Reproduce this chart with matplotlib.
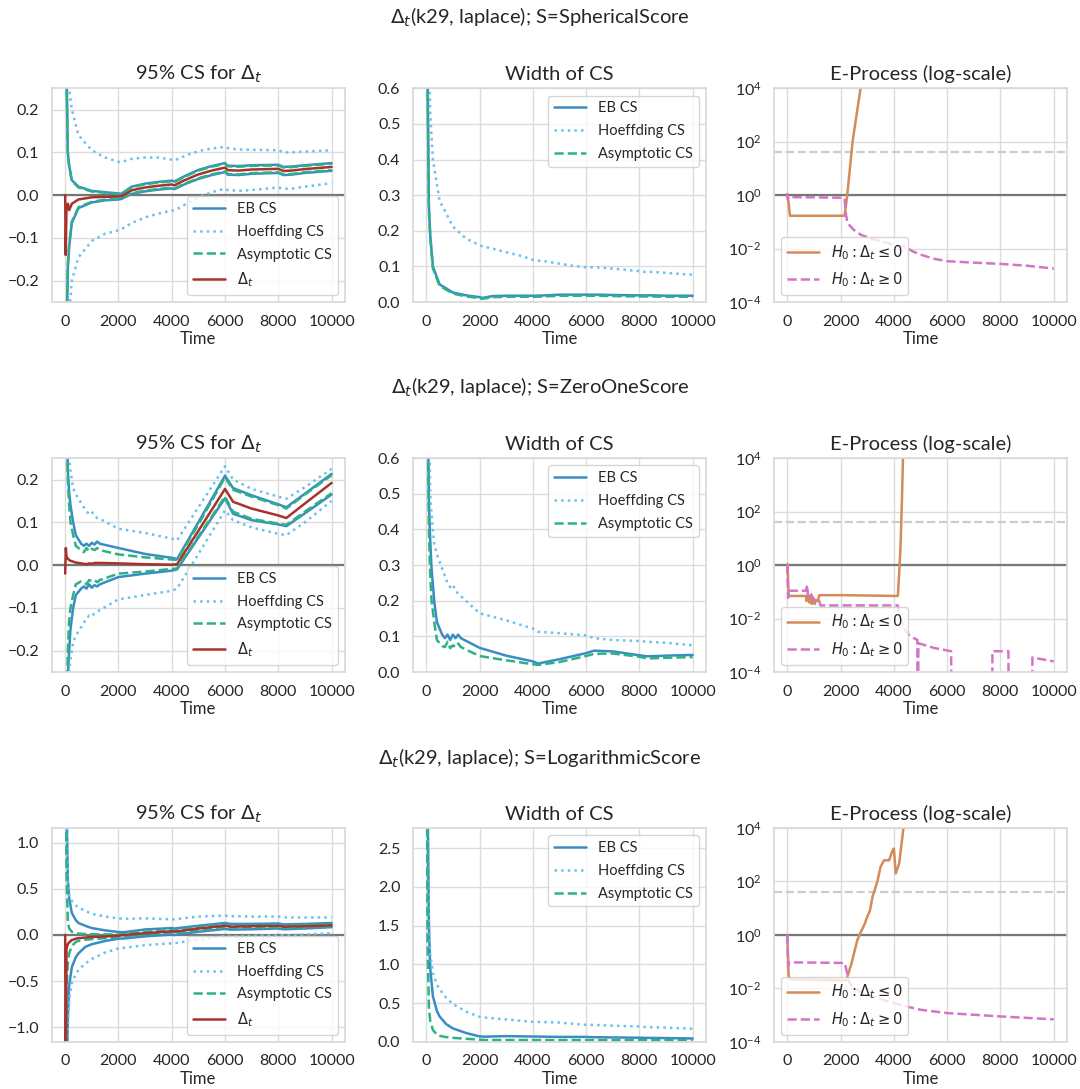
import numpy as np
import matplotlib
matplotlib.use("Agg")
import matplotlib.pyplot as plt
import seaborn as sns

#------------------------------
# Datos
#------------------------------
ROW_TITLES = [
    r"$\Delta_t$(k29, laplace); S=SphericalScore",
    r"$\Delta_t$(k29, laplace); S=ZeroOneScore",
    r"$\Delta_t$(k29, laplace); S=LogarithmicScore",
]

# --- SphericalScore ---
t_sph = [1, 20, 50, 100, 150, 250, 500, 1000, 1500, 2000, 2100, 2500, 3000, 3500,
         4000, 4100, 4500, 5000, 5500, 6000, 6100, 6500, 7000, 8000, 8200, 8500, 9000, 10000]
eb_up_sph = [2.0, 0.6, 0.3, 0.1, 0.07, 0.035, 0.02, 0.01, 0.007, 0.004, 0.003, 0.02, 0.027, 0.031,
             0.034, 0.032, 0.045, 0.059, 0.068, 0.075, 0.069, 0.068, 0.070, 0.071, 0.066, 0.067, 0.070, 0.075]
eb_lo_sph = [-2.0, -0.7, -0.35, -0.17, -0.12, -0.065, -0.03, -0.017, -0.012, -0.010, -0.009, 0.003, 0.009, 0.013,
             0.016, 0.014, 0.026, 0.038, 0.047, 0.054, 0.048, 0.047, 0.050, 0.052, 0.047, 0.048, 0.052, 0.057]
as_up_sph = [1.9, 0.55, 0.28, 0.095, 0.066, 0.033, 0.018, 0.0085, 0.0055, 0.0027, 0.0018, 0.0185, 0.0255, 0.0295,
             0.0325, 0.0305, 0.0435, 0.0575, 0.0665, 0.0735, 0.0675, 0.0665, 0.0685, 0.0695, 0.0645, 0.0655, 0.0685, 0.0735]
as_lo_sph = [-1.9, -0.65, -0.33, -0.16, -0.115, -0.062, -0.028, -0.0155, -0.0105, -0.0085, -0.0075, 0.0045, 0.0105, 0.0145,
             0.0175, 0.0155, 0.0275, 0.0395, 0.0485, 0.0555, 0.0495, 0.0485, 0.0515, 0.0535, 0.0485, 0.0495, 0.0535, 0.0585]
hf_up_sph = [3.0, 1.5, 0.6, 0.35, 0.25, 0.2, 0.14, 0.105, 0.088, 0.078, 0.077, 0.085, 0.088, 0.088,
             0.083, 0.081, 0.092, 0.103, 0.109, 0.113, 0.110, 0.107, 0.106, 0.105, 0.100, 0.100, 0.102, 0.105]
hf_lo_sph = [-3.0, -1.5, -0.6, -0.38, -0.28, -0.2, -0.145, -0.107, -0.09, -0.082, -0.08, -0.065, -0.052, -0.043,
             -0.036, -0.036, -0.022, -0.005, 0.007, 0.015, 0.012, 0.010, 0.012, 0.018, 0.015, 0.015, 0.020, 0.028]
delta_sph = [0.0, -0.14, -0.03, -0.02, -0.035, -0.02, -0.01, -0.005, -0.004, -0.003, -0.003, 0.0115, 0.018, 0.022,
             0.025, 0.023, 0.0355, 0.0485, 0.0575, 0.0645, 0.0585, 0.0575, 0.060, 0.0615, 0.0565, 0.0575, 0.061, 0.066]

te_le_sph = [1, 50, 100, 2150, 2200, 2250, 2350, 2450, 2600, 2750, 2800]
e_le_sph = [1.0, 0.5, 0.17, 0.17, 0.4, 1.0, 10, 100, 1000, 1e4, 2e4]
te_ge_sph = [1, 20, 50, 100, 2150, 2200, 2260, 2500, 2760, 3000, 3500, 4000, 4400, 4700, 5000,
             5500, 6000, 7000, 8000, 9000, 10000]
e_ge_sph = [1.2, 0.7, 0.9, 0.85, 0.8, 0.2, 0.09, 0.05, 0.033, 0.027, 0.019, 0.014, 0.012, 0.008, 0.006,
            0.0042, 0.0034, 0.003, 0.0027, 0.0023, 0.0018]

# --- ZeroOneScore ---
t_zo = [1, 25, 50, 100, 150, 200, 300, 400, 600, 700, 800, 900, 1000, 1100, 1200, 1300,
        2000, 3000, 4000, 4200, 5000, 6000, 6300, 7000, 8000, 8300, 9000, 10000]
eb_up_zo = [2.0, 0.8, 0.4, 0.22, 0.17, 0.14, 0.1, 0.07, 0.05, 0.045, 0.05, 0.045, 0.052, 0.048, 0.055, 0.05,
            0.04, 0.026, 0.017, 0.014, 0.1, 0.209, 0.18, 0.163, 0.142, 0.135, 0.167, 0.213]
eb_lo_zo = [-2.0, -0.9, -0.45, -0.26, -0.2, -0.15, -0.1, -0.07, -0.055, -0.05, -0.055, -0.045, -0.053, -0.047, -0.05, -0.045,
            -0.028, -0.02, -0.013, -0.01, 0.064, 0.156, 0.12, 0.105, 0.095, 0.091, 0.121, 0.165]
as_up_zo = [1.8, 0.7, 0.35, 0.2, 0.14, 0.1, 0.07, 0.045, 0.035, 0.03, 0.04, 0.032, 0.038, 0.035, 0.04, 0.035,
            0.025, 0.018, 0.013, 0.012, 0.095, 0.205, 0.176, 0.16, 0.14, 0.132, 0.165, 0.21]
as_lo_zo = [-1.8, -0.8, -0.4, -0.2, -0.13, -0.1, -0.07, -0.045, -0.038, -0.04, -0.045, -0.035, -0.037, -0.035, -0.04, -0.035,
            -0.02, -0.015, -0.009, -0.008, 0.067, 0.16, 0.125, 0.108, 0.097, 0.094, 0.125, 0.168]
hf_up_zo = [3.0, 1.5, 0.7, 0.4, 0.25, 0.22, 0.18, 0.165, 0.145, 0.135, 0.125, 0.12, 0.125, 0.115, 0.11, 0.108,
            0.085, 0.075, 0.062, 0.058, 0.135, 0.231, 0.2, 0.178, 0.16, 0.155, 0.182, 0.225]
hf_lo_zo = [-3.0, -1.5, -0.7, -0.4, -0.25, -0.22, -0.18, -0.165, -0.145, -0.135, -0.125, -0.118, -0.12, -0.113, -0.11, -0.105,
            -0.08, -0.07, -0.06, -0.055, 0.026, 0.128, 0.105, 0.088, 0.073, 0.07, 0.1, 0.15]
delta_zo = [-0.02, 0.04, 0.02, 0.015, 0.012, 0.01, 0.008, 0.006, 0.004, 0.003, 0.002, 0.004, 0.003, 0.005, 0.005, 0.005,
            0.004, 0.002, 0.001, 0.002, 0.08, 0.178, 0.148, 0.132, 0.116, 0.11, 0.144, 0.192]

te_le_zo = [1, 10, 50, 700, 720, 780, 820, 880, 920, 980, 1030, 1080, 1150, 1200, 2100,
            4150, 4200, 4250, 4300, 4350]
e_le_zo = [1.0, 1.1, 0.07, 0.07, 0.045, 0.08, 0.04, 0.07, 0.035, 0.06, 0.035, 0.05, 0.045, 0.075, 0.075,
           0.07, 0.5, 5.0, 200, 2e4]
te_ge_zo = [1, 30, 50, 700, 750, 780, 900, 1000, 1200, 1250, 4150, 4200, 4400, 4600, 4880, 4890, 4910,
            4920, 5500, 6150, 6160, 7690, 7700, 8300, 8310, 9190, 9200, 10000]
e_ge_zo = [1.0, 0.06, 0.11, 0.11, 0.18, 0.06, 0.08, 0.045, 0.045, 0.031, 0.031, 0.012, 0.004, 0.0022, 0.0016, 1e-6, 1e-6,
           0.0012, 0.0008, 0.0006, 1e-6, 1e-6, 0.0006, 0.0006, 1e-6, 1e-6, 0.00035, 0.00025]

# --- LogarithmicScore ---
t_log = [1, 20, 50, 100, 150, 250, 400, 500, 750, 1000, 1500, 2000, 2200, 3000, 4000, 4100,
         5000, 6000, 6200, 7000, 8000, 8200, 9000, 10000]
eb_up_log = [8.0, 3.0, 1.5, 0.6, 0.4, 0.24, 0.16, 0.13, 0.1, 0.075, 0.05, 0.032, 0.03, 0.06, 0.075, 0.07,
             0.1, 0.13, 0.12, 0.12, 0.125, 0.115, 0.12, 0.13]
eb_lo_log = [-8.0, -3.5, -1.8, -0.9, -0.55, -0.35, -0.24, -0.2, -0.13, -0.1, -0.065, -0.04, -0.038, -0.015, 0.005, 0.0,
             0.035, 0.065, 0.058, 0.062, 0.07, 0.062, 0.07, 0.085]
as_up_log = [6.0, 2.0, 0.7, 0.15, 0.07, 0.035, 0.02, 0.015, 0.01, 0.008, 0.006, 0.005, 0.012, 0.033, 0.052, 0.047,
             0.082, 0.112, 0.102, 0.107, 0.112, 0.102, 0.107, 0.117]
as_lo_log = [-6.0, -2.5, -0.6, -0.3, -0.2, -0.12, -0.075, -0.065, -0.052, -0.045, -0.035, -0.025, -0.013, 0.008, 0.027, 0.022,
             0.058, 0.088, 0.078, 0.083, 0.088, 0.078, 0.083, 0.093]
hf_up_log = [10.0, 4.0, 1.2, 0.55, 0.43, 0.37, 0.32, 0.3, 0.26, 0.23, 0.2, 0.18, 0.175, 0.18, 0.17, 0.17,
             0.2, 0.21, 0.205, 0.2, 0.2, 0.19, 0.19, 0.19]
hf_lo_log = [-10.0, -4.0, -1.5, -1.0, -0.7, -0.52, -0.42, -0.38, -0.31, -0.26, -0.19, -0.145, -0.14, -0.11, -0.09, -0.09,
             -0.05, -0.01, -0.015, -0.01, 0.0, -0.003, 0.005, 0.02]
delta_log = [0.0, -1.6, -0.15, -0.1, -0.08, -0.055, -0.04, -0.035, -0.028, -0.022, -0.016, -0.008, 0.0, 0.02, 0.04, 0.035,
             0.07, 0.1, 0.09, 0.095, 0.1, 0.09, 0.095, 0.105]

te_le_log = [1, 50, 100, 2200, 2255, 2400, 2500, 2630, 2760, 2900, 3000, 3100, 3200, 3380, 3500,
             3630, 3820, 3950, 4000, 4070, 4200, 4360, 4400]
e_le_log = [1.0, 0.03, 0.022, 0.02, 0.028, 0.08, 0.2, 0.65, 1.3, 2.5, 4.8, 8, 27, 100, 350,
            620, 620, 1450, 1700, 200, 470, 1e4, 1.5e4]
te_ge_log = [1, 30, 50, 2150, 2190, 2320, 2500, 3000, 3760, 4500, 5000, 6000, 8000, 10000]
e_ge_log = [1.0, 0.07, 0.095, 0.09, 0.066, 0.018, 0.01, 0.0058, 0.0033, 0.0021, 0.0016, 0.0012, 0.0009, 0.0007]

ROWS = [
    dict(t=t_sph, eb=(eb_lo_sph, eb_up_sph), hf=(hf_lo_sph, hf_up_sph), asym=(as_lo_sph, as_up_sph),
         delta=delta_sph, le=(te_le_sph, e_le_sph), ge=(te_ge_sph, e_ge_sph), cs_lim=0.25, w_lim=0.6),
    dict(t=t_zo, eb=(eb_lo_zo, eb_up_zo), hf=(hf_lo_zo, hf_up_zo), asym=(as_lo_zo, as_up_zo),
         delta=delta_zo, le=(te_le_zo, e_le_zo), ge=(te_ge_zo, e_ge_zo), cs_lim=0.25, w_lim=0.6),
    dict(t=t_log, eb=(eb_lo_log, eb_up_log), hf=(hf_lo_log, hf_up_log), asym=(as_lo_log, as_up_log),
         delta=delta_log, le=(te_le_log, e_le_log), ge=(te_ge_log, e_ge_log), cs_lim=1.16, w_lim=2.76),
]

ALPHA = 0.025

#-----------
# Estilos
#-----------
C_EB = "#3a8cc4"
C_HF = "#6cc0ee"
C_AS = "#2bb285"
C_DELTA = "#a8322d"
C_LE = "#d28c5a"
C_GE = "#d474c6"

sns.set_theme(style="whitegrid")
plt.rcParams["font.family"] = ["Lato", "DejaVu Sans"]
plt.rcParams["axes.edgecolor"] = "#d9d9d9"
plt.rcParams["grid.color"] = "#dcdcdc"

fig, axes = plt.subplots(
    3, 3, figsize=(10.8, 10.89), dpi=100,
    gridspec_kw=dict(left=0.048, right=0.988, top=0.919, bottom=0.0432,
                     wspace=0.232, hspace=0.729),
)

LW = 1.8
TICK_FS = 11.5
TITLE_FS = 14.5
LABEL_FS = 12
LEG_FS = 10.5
LEG_KW = dict(handlelength=2.2, labelspacing=0.6)

for i, row in enumerate(ROWS):
    t = np.array(row["t"])
    eb_lo, eb_up = np.array(row["eb"][0]), np.array(row["eb"][1])
    hf_lo, hf_up = np.array(row["hf"][0]), np.array(row["hf"][1])
    as_lo, as_up = np.array(row["asym"][0]), np.array(row["asym"][1])

    # 1) CS
    ax = axes[i, 0]
    ax.axhline(0, color="#777777", lw=1.6, zorder=1)
    ax.plot(t, eb_up, color=C_EB, lw=LW, label="EB CS")
    ax.plot(t, eb_lo, color=C_EB, lw=LW)
    ax.plot(t, hf_up, color=C_HF, lw=LW, ls=":", label="Hoeffding CS")
    ax.plot(t, hf_lo, color=C_HF, lw=LW, ls=":")
    ax.plot(t, as_up, color=C_AS, lw=LW, ls="--", label="Asymptotic CS")
    ax.plot(t, as_lo, color=C_AS, lw=LW, ls="--")
    ax.plot(t, row["delta"], color=C_DELTA, lw=LW, label=r"$\Delta_t$")
    ax.set_ylim(-row["cs_lim"], row["cs_lim"])
    ax.set_title(r"95% CS for $\Delta_t$", fontsize=TITLE_FS)
    ax.legend(loc="lower right", fontsize=LEG_FS, **LEG_KW)

    # 2) Anchura
    ax = axes[i, 1]
    ax.plot(t, eb_up - eb_lo, color=C_EB, lw=LW, label="EB CS")
    ax.plot(t, hf_up - hf_lo, color=C_HF, lw=LW, ls=":", label="Hoeffding CS")
    ax.plot(t, as_up - as_lo, color=C_AS, lw=LW, ls="--", label="Asymptotic CS")
    ax.set_ylim(0, row["w_lim"])
    ax.set_title("Width of CS", fontsize=TITLE_FS)
    ax.legend(loc="upper right", fontsize=LEG_FS, **LEG_KW)

    # 3) E-process
    ax = axes[i, 2]
    ax.axhline(1, color="#777777", lw=1.6, zorder=1)
    ax.axhline(1 / ALPHA, color="#cccccc", lw=1.6, ls="--", zorder=1)
    ax.plot(row["le"][0], row["le"][1], color=C_LE, lw=LW, label=r"$H_0: \Delta_t \leq 0$")
    ax.plot(row["ge"][0], row["ge"][1], color=C_GE, lw=LW, ls="--", label=r"$H_0: \Delta_t \geq 0$")
    ax.set_yscale("log")
    ax.set_ylim(1e-4, 1e4)
    ax.set_yticks([1e-4, 1e-2, 1e0, 1e2, 1e4])
    ax.minorticks_off()
    ax.set_title("E-Process (log-scale)", fontsize=TITLE_FS)
    ax.legend(loc="lower left", fontsize=LEG_FS, **LEG_KW)

    for ax in axes[i]:
        ax.set_xlim(-500, 10500)
        ax.set_xticks([0, 2000, 4000, 6000, 8000, 10000])
        ax.set_xlabel("Time", fontsize=LABEL_FS, labelpad=2)
        ax.tick_params(labelsize=TICK_FS, pad=3)

    y_title = [0.984, 0.644, 0.304][i]
    fig.text(0.5, y_title, ROW_TITLES[i], ha="center", va="center", fontsize=14.5, color="0.15")

fig.savefig("out.png", dpi=100)
plt.close(fig)
